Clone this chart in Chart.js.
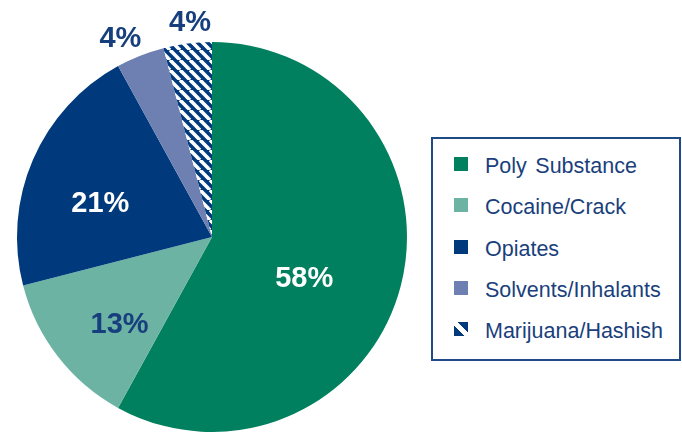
<!DOCTYPE html>
<html>
<head>
<meta charset="utf-8">
<script src="https://cdn.jsdelivr.net/npm/chart.js@4/dist/chart.umd.min.js"></script>
<style>
    body { margin: 0; background: #fff; }
    #wrap { position: relative; width: 682px; height: 432px; overflow: hidden; }
    #pieBox { position: absolute; left: 0; top: 0; width: 430px; height: 432px; }
    #legend {
        position: absolute; left: 431px; top: 137px; width: 246px; height: 220px;
        border: 2px solid #1f4a88; background: #fff;
        font-family: "Liberation Sans", Arial, sans-serif;
    }
    .row { position: absolute; left: 0; height: 24px; }
    .swatch { position: absolute; left: 21px; top: 3px; width: 14px; height: 14px; }
    .txt {
        position: absolute; left: 52px; top: 0; white-space: nowrap;
        font-size: 21.5px; line-height: 24px; word-spacing: 2.5px; color: #1a3f7c;
    }
</style>
</head>
<body>
<div id="wrap">
    <div id="pieBox"><canvas id="myChart"></canvas></div>
    <div id="legend"></div>
</div>
<script>
const categories = ['Poly Substance', 'Cocaine/Crack', 'Opiates', 'Solvents/Inhalants', 'Marijuana/Hashish'];
const shares = [58, 13, 21, 4, 4];
const valueLabels = ['58%', '13%', '21%', '4%', '4%'];

const NAVY = '#003a7c';
const COLORS = ['#00805e', '#6db3a4', NAVY, '#6e80b2', null];

// white "\" stripes on navy for the last slice
function stripePattern () {
    const tile = document.createElement('canvas');
    tile.width = 10;
    tile.height = 10;
    const t = tile.getContext('2d');
    t.fillStyle = NAVY;
    t.fillRect(0, 0, 10, 10);
    t.strokeStyle = '#fff';
    t.lineWidth = 3.6;
    [-10, 0, 10].forEach(off => {
        t.beginPath();
        t.moveTo(off, 0);
        t.lineTo(off + 10, 10);
        t.stroke();
    });
    return t.createPattern(tile, 'repeat');
}

// label placement per slice: fraction of radius and angle nudge (deg), text colour
const LABEL_POS = [
    { r: 0.515, nudge: 9, color: '#fff' },
    { r: 0.646, nudge: -5, color: '#173f7e' },
    { r: 0.60, nudge: -6, color: '#fff' },
    { r: 1.128, nudge: -3, color: '#173f7e' },
    { r: 1.113, nudge: 1.4, color: '#173f7e' }
];

const sliceLabels = {
    id: 'sliceLabels',
    afterDatasetsDraw (chart) {
        const { ctx } = chart;
        const meta = chart.getDatasetMeta(0);
        ctx.save();
        ctx.font = 'bold 29px "Liberation Sans", Arial, sans-serif';
        ctx.textAlign = 'center';
        ctx.textBaseline = 'middle';
        meta.data.forEach((arc, i) => {
            const p = LABEL_POS[i];
            const mid = (arc.startAngle + arc.endAngle) / 2 + p.nudge * Math.PI / 180;
            const rr = arc.outerRadius * p.r;
            ctx.fillStyle = p.color;
            ctx.fillText(valueLabels[i], arc.x + Math.cos(mid) * rr, arc.y + Math.sin(mid) * rr + 2);
        });
        ctx.restore();
    }
};

const pattern = stripePattern();
const ctx = document.getElementById('myChart');

new Chart(ctx, {
    type: 'pie',
    data: {
        labels: categories,
        datasets: [{
            data: shares,
            backgroundColor: COLORS.map(c => c || pattern),
            borderWidth: 0
        }]
    },
    options: {
        responsive: true,
        maintainAspectRatio: false,
        animation: false,
        layout: {
            padding: { left: 17, right: 23, top: 42, bottom: 0 }
        },
        plugins: {
            legend: { display: false },
            tooltip: { enabled: false }
        }
    },
    plugins: [sliceLabels]
});

// legend box
const legend = document.getElementById('legend');
categories.forEach((name, i) => {
    const row = document.createElement('div');
    row.className = 'row';
    row.style.top = (15 + i * 41.3) + 'px';
    const sw = document.createElement('div');
    sw.className = 'swatch';
    sw.style.background = COLORS[i] ||
        `linear-gradient(45deg, ${NAVY} 0 36%, #fff 36% 62%, ${NAVY} 62% 100%)`;
    const tx = document.createElement('div');
    tx.className = 'txt';
    tx.textContent = name;
    row.appendChild(sw);
    row.appendChild(tx);
    legend.appendChild(row);
});
</script>
</body>
</html>
